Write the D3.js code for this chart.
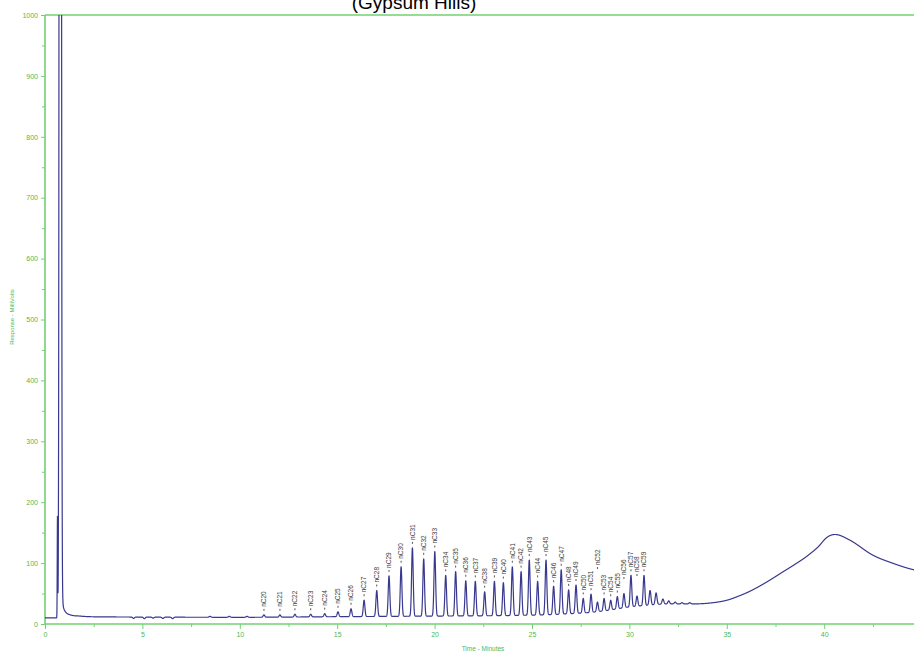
<!DOCTYPE html>
<html>
<head>
<meta charset="utf-8">
<script src="https://cdn.jsdelivr.net/npm/d3@7"></script>
<style>
  html, body { margin: 0; padding: 0; background: #ffffff; }
  svg { display: block; }
</style>
</head>
<body>
<svg id="chart" width="914" height="652"></svg>
<script>
// ---- Chromatogram data (retention time in minutes, response in millivolts) ----
const peakLabels = ["nC20","nC21","nC22","nC23","nC24","nC25","nC26","nC27","nC28","nC29",
                    "nC30","nC31","nC32","nC33","nC34","nC35","nC36","nC37","nC38","nC39",
                    "nC40","nC41","nC42","nC43","nC44","nC45","nC46","nC47","nC48","nC49",
                    "nC50","nC51","nC52","nC53","nC54","nC55","nC56","nC57","nC58","nC59"];
const peakTimes  = [11.24,12.06,12.83,13.64,14.36,15.04,15.71,16.38,17.03,17.66,
                    18.28,18.86,19.44,20.01,20.57,21.08,21.60,22.09,22.57,23.07,
                    23.53,23.99,24.44,24.86,25.29,25.72,26.11,26.50,26.88,27.26,
                    27.63,28.03,28.36,28.70,29.04,29.38,29.72,30.08,30.39,30.75];
const peakApex   = [15,15,16,16,17,20,25,39,55,79,
                    94,125,107,119,80,86,71,70,53,70,
                    68,94,86,105,70,105,62,89,56,64,
                    42,49,36,42,39,45,50,80,46,80];

// unlabelled features on the trace (small bumps and dips)
const minorTimes = [4.55,5.10,5.55,6.05,6.55,8.47,9.46,10.37,31.06,31.37,31.72,32.02,32.35,32.70,33.10];
const minorApex  = [9.2,8.8,9.6,9.0,8.8,12.6,12.6,12.6,55,51,41,38,36,35,35];

// solvent front
const solventTimes = [0.64, 0.785];
const solventApex  = [165, 6000];
const solventWidth = [0.012, 0.036];

// baseline / unresolved hump
const baselineTimes  = [0,0.70,0.86,0.95,1.05,1.3,1.8,2.3,4,10,15,20,24,26,27,28,29,30,31,32,33,34,35,35.7,36.2,37,37.9,38.5,39.1,39.7,40.13,40.55,41.3,42.5,43.5,44.6,45.2];
const baselineValues = [10,10,42,27,20,15,13,12,11.5,11,12,13,14,15.5,17,19,23,28,31,33,33,34,39,47,54,68,86,98,111,127,142,147,138,113,100,89,86];

const xTickValues = [0,5,10,15,20,25,30,35,40];
const yTickValues = [0,100,200,300,400,500,600,700,800,900,1000];

// ---- layout ----
const svg = d3.select("#chart");
const W = 914, H = 652;
const plotLeft = 45, plotTop = 15, plotBottom = 624;
const x = d3.scaleLinear().domain([0, 45]).range([plotLeft, plotLeft + 45 * 19.48]);
const y = d3.scaleLinear().domain([0, 1000]).range([plotBottom, plotTop]);

const green = "#72d072";
const greenText = "#4fb84f";

// monotone cubic baseline
function monotone(xs, ys) {
  const n = xs.length, d = [], m = new Array(n);
  for (let i = 0; i < n - 1; i++) d[i] = (ys[i + 1] - ys[i]) / (xs[i + 1] - xs[i]);
  m[0] = d[0]; m[n - 1] = d[n - 2];
  for (let i = 1; i < n - 1; i++) m[i] = d[i - 1] * d[i] <= 0 ? 0 : (d[i - 1] + d[i]) / 2;
  for (let i = 0; i < n - 1; i++) {
    if (d[i] === 0) { m[i] = 0; m[i + 1] = 0; continue; }
    const a = m[i] / d[i], b = m[i + 1] / d[i], s = a * a + b * b;
    if (s > 9) { const t = 3 / Math.sqrt(s); m[i] = t * a * d[i]; m[i + 1] = t * b * d[i]; }
  }
  return v => {
    let i = d3.bisectRight(xs, v) - 1;
    i = Math.max(0, Math.min(n - 2, i));
    const h = xs[i + 1] - xs[i], t = (v - xs[i]) / h, t2 = t * t, t3 = t2 * t;
    return (2 * t3 - 3 * t2 + 1) * ys[i] + (t3 - 2 * t2 + t) * h * m[i] +
           (-2 * t3 + 3 * t2) * ys[i + 1] + (t3 - t2) * h * m[i + 1];
  };
}
const base = monotone(baselineTimes, baselineValues);

// peaks as gaussians sitting on the baseline
const peaks = [];
peakTimes.forEach((t, i) => peaks.push({ t, amp: peakApex[i] - base(t), s: 0.042 }));
minorTimes.forEach((t, i) => peaks.push({ t, amp: minorApex[i] - base(t), s: 0.045 }));
solventTimes.forEach((t, i) => peaks.push({ t, amp: solventApex[i], s: solventWidth[i] }));

function signal(t) {
  let v = base(t);
  for (const p of peaks) {
    const d = (t - p.t) / p.s;
    if (d > -6 && d < 6) v += p.amp * Math.exp(-0.5 * d * d);
  }
  return v;
}

const trace = d3.range(0, 45.0, 0.004).map(t => [t, signal(t)]);

// ---- clip ----
svg.append("defs").append("clipPath").attr("id", "plotClip")
  .append("rect").attr("x", plotLeft).attr("y", plotTop)
  .attr("width", W - plotLeft).attr("height", plotBottom - plotTop);

// ---- title (runs off the top edge of the page) ----
svg.append("text")
  .attr("x", 414).attr("y", 9)
  .attr("text-anchor", "middle")
  .attr("font-family", "Liberation Sans, Arial, sans-serif")
  .attr("font-size", 19)
  .attr("fill", "#000")
  .text("(Gypsum Hills)");

// ---- axes ----
const axisFont = "Liberation Sans, Arial, sans-serif";

const yAxis = svg.append("g").attr("transform", `translate(${plotLeft},0)`)
  .call(d3.axisLeft(y).tickValues(yTickValues).tickFormat(d3.format("d"))
    .tickSize(4).tickSizeOuter(0).tickPadding(3));
const yMinor = svg.append("g").attr("transform", `translate(${plotLeft},0)`)
  .call(d3.axisLeft(y).tickValues(d3.range(50, 1000, 100)).tickSize(3).tickSizeOuter(0).tickFormat(""));

const xAxis = svg.append("g").attr("transform", `translate(0,${plotBottom})`)
  .call(d3.axisBottom(x).tickValues(xTickValues).tickFormat(d3.format("d"))
    .tickSize(5).tickSizeOuter(0).tickPadding(3));
const xMinor = svg.append("g").attr("transform", `translate(0,${plotBottom})`)
  .call(d3.axisBottom(x).tickValues(d3.range(2.5, 45, 5)).tickSize(3).tickSizeOuter(0).tickFormat(""));

[yAxis, yMinor, xAxis, xMinor].forEach(g => {
  g.select(".domain").remove();
  g.selectAll(".tick line").attr("stroke", green).attr("stroke-width", 1);
  g.selectAll(".tick text").attr("fill", greenText).attr("font-family", axisFont).attr("font-size", 7);
});

// axis lines and top frame
svg.append("line").attr("x1", plotLeft).attr("x2", plotLeft).attr("y1", plotTop).attr("y2", plotBottom + 1)
  .attr("stroke", green).attr("stroke-width", 1.6);
svg.append("line").attr("x1", plotLeft).attr("x2", W).attr("y1", plotBottom).attr("y2", plotBottom)
  .attr("stroke", green).attr("stroke-width", 1.6);
svg.append("line").attr("x1", plotLeft).attr("x2", W).attr("y1", plotTop).attr("y2", plotTop)
  .attr("stroke", green).attr("stroke-width", 1.6);

// axis titles
svg.append("text")
  .attr("x", 483).attr("y", 651)
  .attr("text-anchor", "middle")
  .attr("font-family", axisFont).attr("font-size", 6.5)
  .attr("fill", greenText)
  .text("Time - Minutes");
svg.append("text")
  .attr("transform", "translate(14,317) rotate(-90)")
  .attr("text-anchor", "middle")
  .attr("font-family", axisFont).attr("font-size", 6)
  .attr("fill", greenText)
  .text("Response - MilliVolts");

// ---- trace ----
svg.append("path")
  .datum(trace)
  .attr("clip-path", "url(#plotClip)")
  .attr("fill", "none")
  .attr("stroke", "#38388f")
  .attr("stroke-width", 1.2)
  .attr("stroke-linejoin", "round")
  .attr("d", d3.line().x(d => x(d[0])).y(d => y(d[1])));

// ---- peak labels ----
// a few crowded labels sit higher; value = pixel row where their text starts
const liftedStart = { nC52: 565, nC56: 575, nC58: 572 };
const labels = svg.append("g");
peakLabels.forEach((name, i) => {
  const px = x(peakTimes[i]);
  const apexY = y(peakApex[i]);
  const start = liftedStart[name] !== undefined ? liftedStart[name] : apexY - 8;
  const g = labels.append("g");
  g.append("line")
    .attr("x1", px).attr("x2", px)
    .attr("y1", start + 4).attr("y2", start + 2)
    .attr("stroke", "#444").attr("stroke-width", 0.9);
  g.append("text")
    .attr("transform", `translate(${px + 2.3},${start}) rotate(-90)`)
    .attr("font-family", axisFont).attr("font-size", 6.5)
    .attr("fill", "#3a3a3a")
    .text(name);
});
</script>
</body>
</html>
